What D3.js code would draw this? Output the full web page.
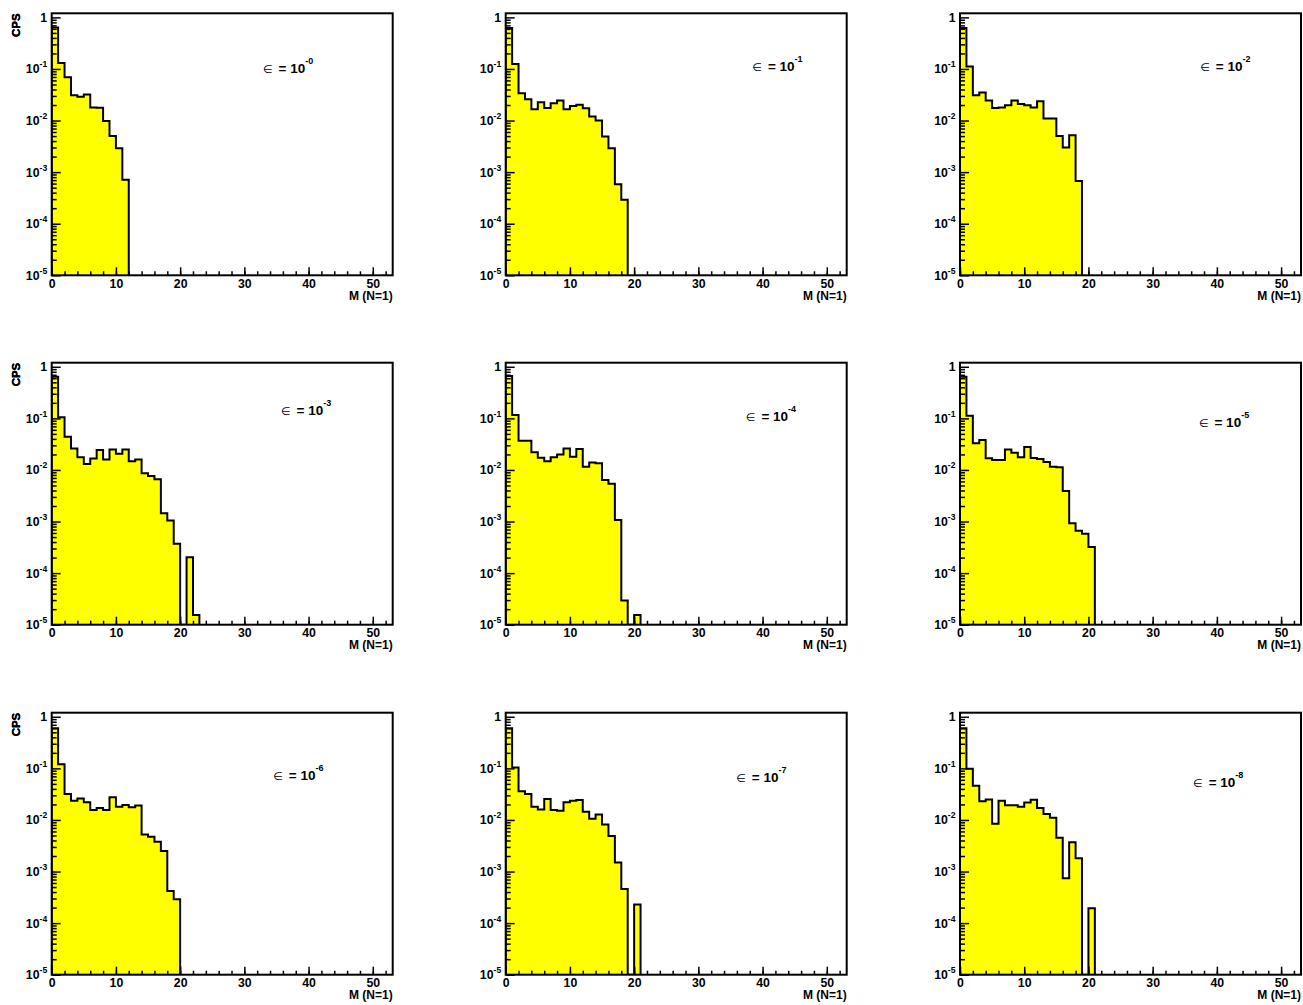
<!DOCTYPE html>
<html><head><meta charset="utf-8">
<script src="https://cdn.jsdelivr.net/npm/d3@7"></script>
<style>
body{margin:0;background:#fff;}
svg{display:block;}
text{font-family:"Liberation Sans",Arial,Helvetica,sans-serif;font-weight:bold;fill:#000;}
</style>
</head><body>
<svg id="c" width="1303" height="1005"></svg>
<script>
// ---- data ----
const exponents = ["-0","-1","-2","-3","-4","-5","-6","-7","-8"];
const h_e0 = [0.64,0.13,0.069,0.031,0.029,0.032,0.018,0.0177,0.0098,0.005,0.0029,0.00071];
const h_e1 = [0.62,0.125,0.034,0.026,0.0166,0.0226,0.0176,0.0216,0.0245,0.0166,0.0192,0.0202,0.0173,0.012,0.010,0.0049,0.0029,0.00058,0.00029];
const h_e2 = [0.62,0.112,0.031,0.035,0.0245,0.0176,0.018,0.0199,0.0245,0.0209,0.0199,0.018,0.0236,0.011,0.011,0.0050,0.0030,0.0052,0.00067];
const h_e3 = [0.64,0.105,0.044,0.026,0.0176,0.0131,0.0166,0.0245,0.016,0.025,0.0205,0.025,0.0147,0.016,0.0086,0.0076,0.0066,0.00145,0.00105,0.00037,0,0.000204,0.0000155];
const h_e4 = [0.66,0.116,0.037,0.037,0.022,0.0173,0.0147,0.0176,0.020,0.026,0.018,0.0255,0.0116,0.0139,0.0135,0.0064,0.0054,0.00107,0.0000295,0,0.0000155];
const h_e5 = [0.64,0.112,0.033,0.038,0.0169,0.0156,0.0156,0.025,0.0216,0.0176,0.0279,0.017,0.0163,0.0143,0.0116,0.0113,0.0039,0.00093,0.00066,0.00058,0.00032];
const h_e6 = [0.6,0.12,0.032,0.0236,0.026,0.022,0.0156,0.017,0.0156,0.0275,0.018,0.0195,0.0176,0.019,0.0052,0.0047,0.0038,0.0025,0.00042,0.00029];
const h_e7 = [0.6,0.104,0.036,0.032,0.018,0.0159,0.0255,0.0156,0.015,0.022,0.0236,0.0245,0.0144,0.0106,0.0127,0.0082,0.0049,0.0015,0.00046,0,0.00023];
const h_e8 = [0.6,0.098,0.046,0.023,0.025,0.0084,0.0236,0.0192,0.0192,0.018,0.0217,0.0247,0.017,0.0131,0.011,0.0045,0.00074,0.0037,0.0018,0,0.000195];
const histograms = [h_e0,h_e1,h_e2,h_e3,h_e4,h_e5,h_e6,h_e7,h_e8];
const xMajorTicks = [0,10,20,30,40,50];
const yMajorTicks = [1,1e-1,1e-2,1e-3,1e-4,1e-5];
const yTickBase = ["1","10","10","10","10","10"];
const yTickExp = ["","-1","-2","-3","-4","-5"];
const xTitle = "M (N=1)";
const yTitle = "CPS";
const labelSymbol = "\u2208";
const labelRest = "= 10";
// annotation anchor in data coordinates [x, y] (layout)
const labelAnchor = [[32.9,0.085],[38.4,0.091],[37.4,0.091],[35.7,0.115],[37.4,0.087],[37.2,0.068],[34.5,0.060],[35.9,0.055],[36.3,0.044]];

// ---- layout ----
const colLeft = [51.7, 505.7, 960];
const rowTop = [13.3, 362.7, 712.7];
const W = 341, H = 262;
const xDomain = [0, 53.1];
const yDomain = [1e-5, 1.2];

const svg = d3.select("#c");

histograms.forEach((vals, idx) => {
  const col = idx % 3, row = Math.floor(idx / 3);
  const g = svg.append("g").attr("transform", `translate(${colLeft[col]},${rowTop[row]})`);
  const x = d3.scaleLinear().domain(xDomain).range([0, W]);
  const y = d3.scaleLog().domain(yDomain).range([H, 0]);
  const yv = v => v > 0 ? y(v) : H;

  const clipId = "clip" + idx;
  g.append("clipPath").attr("id", clipId).append("rect").attr("width", W).attr("height", H);

  const pts = [[0, 0]].concat(vals.map((v, i) => [i, v])).concat([[vals.length, 0]]);
  const area = d3.area().curve(d3.curveStepAfter).x(d => x(d[0])).y0(H).y1(d => yv(d[1]));
  const line = d3.line().curve(d3.curveStepAfter).x(d => x(d[0])).y(d => yv(d[1]));
  const hg = g.append("g").attr("clip-path", `url(#${clipId})`);
  hg.append("path").attr("d", area(pts)).attr("fill", "#ffff00").attr("stroke", "none");
  hg.append("path").attr("d", line(pts)).attr("fill", "none").attr("stroke", "#000").attr("stroke-width", 2);

  // x minor ticks
  g.append("g").attr("transform", `translate(0,${H})`)
    .call(d3.axisBottom(x).tickValues(d3.range(0, 53, 2)).tickSize(-4).tickFormat(""))
    .call(a => a.select(".domain").remove())
    .call(a => a.selectAll("line").attr("stroke-width", 1.5));
  // x major
  g.append("g").attr("transform", `translate(0,${H})`)
    .call(d3.axisBottom(x).tickValues(xMajorTicks).tickSize(-8).tickPadding(3.5).tickFormat(d3.format("d")))
    .call(a => a.select(".domain").remove())
    .call(a => a.selectAll("line").attr("stroke-width", 1.5))
    .call(a => a.selectAll("text").attr("font-size", 12.3).attr("font-family", null));

  // y minor ticks
  const minor = [];
  for (let e = -5; e < 0; e++) for (let k = 2; k <= 9; k++) minor.push(k * Math.pow(10, e));
  g.append("g")
    .call(d3.axisLeft(y).tickValues(minor).tickSize(-5).tickFormat(""))
    .call(a => a.select(".domain").remove())
    .call(a => a.selectAll("line").attr("stroke-width", 1.5));
  // y major
  const ya = g.append("g")
    .call(d3.axisLeft(y).tickValues(yMajorTicks).tickSize(-9).tickPadding(4.5).tickFormat(""))
    .call(a => a.select(".domain").remove())
    .call(a => a.selectAll("line").attr("stroke-width", 1.5));
  ya.selectAll(".tick text").each(function(d, i) {
    const t = d3.select(this).attr("font-size", 12.3).attr("font-family", null);
    t.append("tspan").text(yTickBase[i]);
    if (yTickExp[i]) t.append("tspan").attr("font-size", 8.6).attr("dy", -6).text(yTickExp[i]);
  });

  // frame
  g.append("rect").attr("width", W).attr("height", H).attr("fill", "none").attr("stroke", "#000").attr("stroke-width", 2);

  // titles
  g.append("text").attr("x", W).attr("y", H + 24.5).attr("text-anchor", "end").attr("font-size", 12).text(xTitle);
  g.append("text").attr("transform", `translate(${20 - colLeft[col]},0) rotate(-90)`).attr("text-anchor", "end").attr("font-size", 11.5).text(yTitle);

  // annotation
  const [ax, ay] = labelAnchor[idx];
  const lt = g.append("text").attr("x", x(ax)).attr("y", y(ay));
  lt.append("tspan").attr("font-weight", "normal").attr("font-size", 11).attr("font-family", "DejaVu Sans").text(labelSymbol);
  lt.append("tspan").attr("font-size", 13.5).attr("dx", 6).text(labelRest);
  lt.append("tspan").attr("font-size", 9).attr("dy", -9).text(exponents[idx]);
});
</script>
</body></html>
